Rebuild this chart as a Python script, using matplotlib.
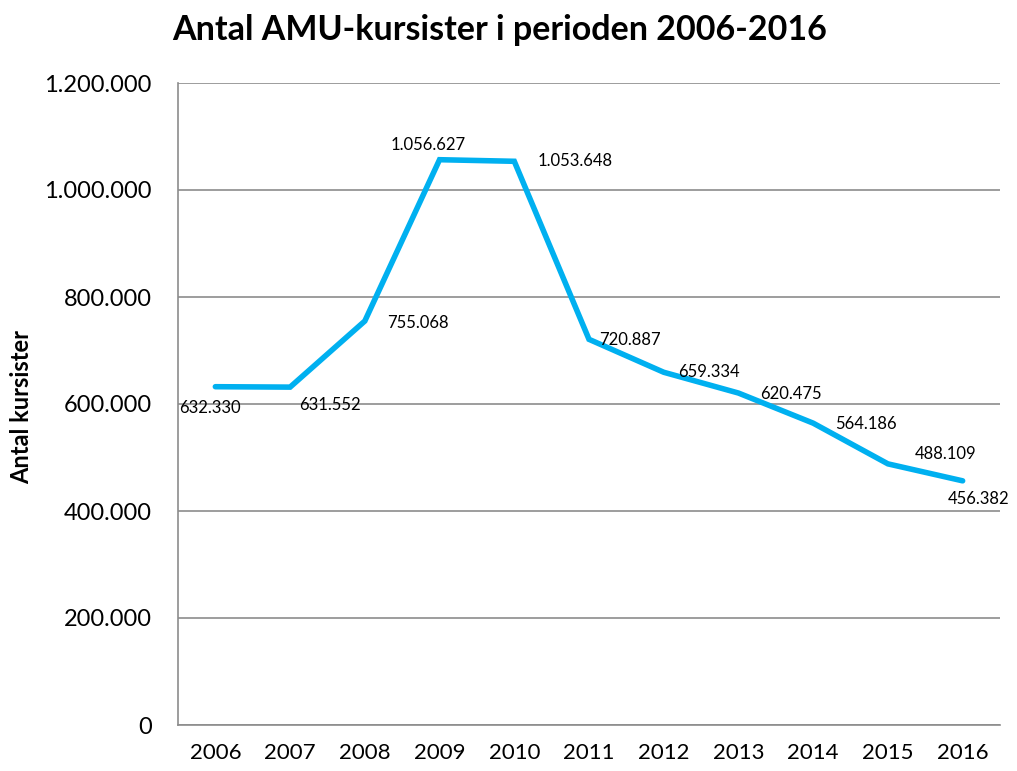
import matplotlib
matplotlib.use("Agg")
import matplotlib.pyplot as plt
from matplotlib.ticker import FuncFormatter

years = ["2006", "2007", "2008", "2009", "2010", "2011", "2012", "2013", "2014", "2015", "2016"]
values = [632330, 631552, 755068, 1056627, 1053648, 720887, 659334, 620475, 564186, 488109, 456382]
y_ticks = [0, 200000, 400000, 600000, 800000, 1000000, 1200000]

# label offsets in pixels (dx, dy downward)
offsets_px = [(-5, 21), (40, 18), (53, 2), (-11, -15), (61, 0), (41, 1),
              (45, 0), (52, 1), (53, 1), (58, -10), (16, 18)]

plt.rcParams['font.family'] = ['Lato', 'DejaVu Sans']

def fmt(v):
    return f"{int(v):,}".replace(",", ".")

fig = plt.figure(figsize=(10.17, 7.71), dpi=100)
ax = fig.add_axes([178/1017, 1-725/771, (1000-178)/1017, (725-83)/771])

x = list(range(len(years)))
ax.plot(x, values, color="#00B0F0", lw=4.0, solid_joinstyle="miter", solid_capstyle="round", zorder=3)

for i, v in enumerate(values):
    dx, dy = offsets_px[i]
    ax.annotate(fmt(v), (i, v), xytext=(dx*0.72, -dy*0.72), textcoords="offset points",
                ha="center", va="center", fontsize=12, color="#000000", zorder=4)

ax.set_xlim(-0.5, len(years)-0.5)
ax.set_ylim(0, 1200000)
ax.set_yticks(y_ticks)
ax.yaxis.set_major_formatter(FuncFormatter(lambda v, p: fmt(v)))
ax.set_xticks(x)
ax.set_xticklabels(years)
ax.grid(axis="y", color="#8c8c8c", lw=1.2)
ax.set_axisbelow(True)
for s in ["top", "right"]:
    ax.spines[s].set_visible(False)
for s in ["left", "bottom"]:
    ax.spines[s].set_color("#8c8c8c")
    ax.spines[s].set_linewidth(1.2)
ax.tick_params(axis="both", length=0, colors="#000000")
ax.tick_params(axis="y", pad=19, labelsize=17)
ax.tick_params(axis="x", pad=13, labelsize=16)
fig.text(22/1017, 1-407/771, "Antal kursister", rotation=90, fontsize=17, fontweight="bold",
         ha="center", va="center")
fig.suptitle("Antal AMU-kursister i perioden 2006-2016", fontsize=24.5, fontweight="bold",
             x=500/1017, y=1-30/771, va="center")

fig.savefig("out.png", dpi=100)
